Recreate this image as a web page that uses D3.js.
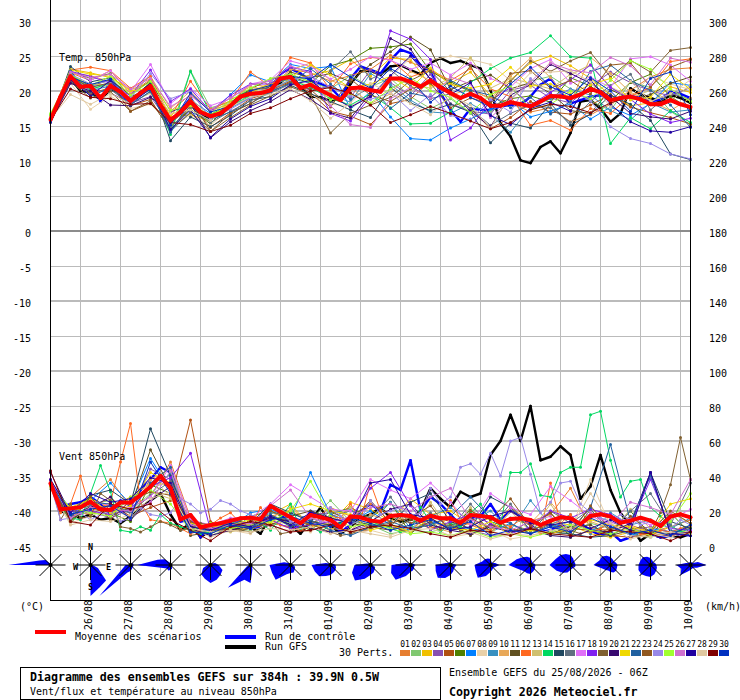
<!DOCTYPE html>
<html><head><meta charset="utf-8">
<script src="https://cdnjs.cloudflare.com/ajax/libs/d3/7.8.5/d3.min.js"></script>
<style>html,body{margin:0;padding:0;background:#fff}svg{display:block}text{font-family:"DejaVu Sans Mono",monospace;font-size:10px;fill:#000}.b{font-weight:bold;font-size:11.6px}</style>
</head><body><svg id="c" width="740" height="700"></svg>
<script>
const dateLabels=["26/08","27/08","28/08","29/08","30/08","31/08","01/09","02/09","03/09","04/09","05/09","06/09","07/09","08/09","09/09","10/09"];
const pertColors=["#e67e30","#80c870","#f0c000","#8850b0","#b05010","#508000","#0080ff","#e8d0a8","#3890c0","#e8a858","#605020","#ff6820","#d0c070","#00d860","#204860","#607080","#e070f8","#8020f0","#806030","#380870","#f0d800","#2060a0","#905820","#9888e8","#a0ff30","#d070d0","#2000a0","#e0c8a0","#800000","#0030c0"];

const tempMean=[15.9,19.2,22.1,20.6,20.7,19,20.7,19.9,18.6,19.7,20.7,18,15.8,17,18.5,17,16.4,16.8,17.9,19.2,19.6,19.7,20.1,21.8,22,20.4,20.9,20.1,19.4,18.7,20.4,20.5,20.1,19.9,21.8,21.8,21.3,20.6,21.5,20.5,19.7,19,19.6,19,17.9,17.9,18.4,18.1,17.8,18.5,19.3,19.2,19,19.5,20.3,19.8,18.7,19,19.2,18.8,18.1,18.1,18.7,18.1,17.7];
const tempControl=[15.8,19,22.5,20.5,21,18.5,21.5,19.5,18.4,19.5,21,18,15.5,17.2,19,16.8,16.5,16.9,18,19.5,19.8,20,20.4,22.5,23.2,22.5,21.5,21,20.5,19,21.8,23.5,23,22.5,24.4,25.9,25.4,23.7,22.8,19.7,17.3,15.6,17.5,17.3,17.3,17.8,18,18,19.2,20.9,21.8,19.9,18.2,18.7,19.2,19.4,18.7,19,19.3,19,18.5,18.8,19.9,19.6,19];
const tempGFS=[15.7,18.8,21.8,20,19.8,18.8,20.2,19.8,18.7,19.8,21,17.8,15.5,16.8,18.2,16.5,16,16.6,17.8,19,19.5,19.8,20,21.2,22.5,20.5,19.2,19.1,18.6,18.9,21,22.8,22.9,22.3,23.5,23.7,23,22.4,24,24.7,24,24.3,23.7,23.2,20.1,15.4,13.5,10.1,9.7,12,12.8,11.1,14,18.5,18.7,17.5,15.6,16.8,20.4,19.5,19,18.5,19.4,19,18.3];
const windMean=[35.8,21,21.5,22.1,25.3,21,20.6,24.8,24.8,29.1,33.9,40,33,15.2,17.7,10.7,12,13,14.5,15.8,16.2,15.2,22.9,19.6,16.4,13,17.7,16.4,14.9,10.7,16.8,16.4,14.5,13.9,17.1,17.7,17.1,14.5,17.3,15.8,15.8,13.3,17.7,17.1,16.4,13.3,15.4,15.8,14.9,12,14.5,16.4,15.8,12.6,17.1,18.1,16.8,13.3,14.5,16.2,14.5,11.4,16.8,18.1,16.4];
const windControl=[36,22,24,25,28,24,18,26,23,32,38,45,42,14,15,5,12,9,11,13,10,11,24,18,13,10,20,17,15,8,12,20,24,20,35,32,49,20,28,24,18,12,16,17,24,15,20,17,12,8,9,12,10,13,9,6,8,3,5,8,7,5,6,7,6];
const windGFS=[37,20,18,16,18,15,16,13,17,22,26,30,18,9,13,5,9,10,13,9,11,7,17,15,12,7,14,22,12,7,11,16,18,22,16,14,15,20,33,27,22,31,28,30,52,60,75,60,80,49,51,57,52,27,34,52,32,19,11,3,7,5,6,5,7];
/* wind roses: directional frequencies, clockwise N..NNW */
const roses=[
[1,0,0,0,0,0,0,0,0,0,0,0,42,12,7,2],
[0,0,0,0,2,8,22,24,31,0,0,0,0,0,0,0],
[0,0,3,3,3,3,3,4,6,8,44,8,5,0,0,0],
[2,1,1,1,1,1,2,4,5,6,5,8,33,14,8,3],
[2,1,2,5,8,13,14,16,18,15,13,8,3,2,1,2],
[2,1,1,1,1,1,2,5,18,16,32,4,1,1,1,2],
[2,1,1,2,3,5,6,8,8,10,21,20,21,7,3,2],
[2,1,1,3,5,6,7,8,10,12,16,17,19,5,2,2],
[2,1,1,2,2,5,6,8,10,15,22,20,16,4,2,2],
[2,1,2,3,5,4,5,6,7,12,21,21,19,5,2,2],
[3,2,2,3,6,5,5,7,10,14,18,16,15,5,3,3],
[6,3,3,5,9,5,4,5,7,12,18,16,16,9,8,7],
[7,4,3,4,5,5,6,7,9,9,9,12,22,15,11,9],
[10,7,5,5,5,5,4,4,5,8,11,15,21,16,14,12],
[8,6,5,6,7,7,8,8,7,6,7,9,17,12,12,10],
[7,5,4,5,6,7,8,10,12,12,13,13,12,11,11,9],
[3,3,3,8,16,7,4,4,5,7,14,10,14,5,3,3]];

/* perturbed members, 850 hPa temperature, °C, 01..30 */
const tempP01=[16.2,22.6,21.5,22.9,19.6,21.7,17.1,19.5,17.2,18.2,21,20.5,23.1,22.6,21.4,22.2,23.1,25.1,24.1,23,21,20.1,19,18.4,17,17.6,15.6,16.6,18.1,20.1,22,23.1,23.3];
const tempP02=[16.6,22.1,20.3,20.9,18.9,20.1,14.4,22.9,17.6,18.4,19.4,21.2,22.4,21.3,20.3,22.2,20.6,21.8,19.2,17.5,18.9,16.8,17.1,18.9,21.4,22.1,20.3,18.6,17.2,21.3,20.5,17.1,15.2];
const tempP03=[16.1,23.1,22.6,21.9,20.2,21.2,16.3,16.6,15.7,18.8,19.9,21.1,21.6,22.3,22.9,24.5,22.1,24.7,24.5,20.8,21.1,22.7,19.3,21.6,24,25,23.6,21.8,19.4,17.9,18.3,20.6,19.8];
const tempP04=[15.6,21.5,20.4,19.7,18.3,19.2,15.2,18.3,16.1,17.8,19.1,20,21.2,20.1,20.7,19.1,23,21.2,19.3,22.4,18.2,17.1,16.7,20.1,20.8,19,18.3,20.7,22.7,21.2,20,19.3,20.5];
const tempP05=[15.9,21.2,19.6,20.5,17.9,18.8,14.3,17.9,14.8,16.9,18.9,19.8,21.3,19.8,17.1,16.4,15.2,18.2,18.8,21.5,19.5,17.5,14.6,16.2,18.5,17,16.7,18,19.5,17.7,16.9,16.2,15.3];
const tempP06=[16.4,22.8,21.8,22.5,19.2,20.3,14.9,17.4,15.3,18.4,20.3,21.7,22.1,21.1,23.6,24.4,26.1,26.3,26.7,22.8,21.3,19.9,17.8,18.9,19.3,18.4,21.9,20.7,18.6,21.2,22.4,19.2,17.4];
const tempP07=[15.8,21.9,20.6,21.1,18.7,20.4,15.6,18.7,16.8,19.5,22.3,21.3,23.8,23.2,23.5,17.4,19.9,16.3,13.2,13,14.7,16,17.4,18.6,16.3,17.1,18.2,16,17.7,16.5,18.2,21.2,20.8];
const tempP08=[16,21.1,17.4,19.3,17.5,18.1,15.2,16.5,15.1,17.5,19.9,20.3,20.9,19.5,18.1,17.9,19.1,22,24.7,24.4,25,24.5,23.8,21.5,20.5,24.2,22.2,23.8,20.6,19.2,22.1,21,20.2];
const tempP09=[15.9,21.7,20.1,20.7,18.6,20.8,14.2,17,15.8,17.6,19,20.8,21.8,21.1,19.5,18.4,22.5,20.9,18.7,17,16.8,18.2,16.6,14.1,17.7,18.9,20.3,19.4,17.2,15.9,18.3,17,17.3];
const tempP10=[16.3,22.5,22.2,21.3,19.8,22.1,17.5,20,16.9,19.1,20.6,20.1,23,24,21.5,20.5,18.2,19.6,22.8,21.5,19.4,20.3,18.8,22.1,24.7,21.9,18.4,24.8,22.5,19.8,18.6,17.2,19];
const tempP11=[16.2,22.2,20.7,21.6,19.4,21.5,16.1,18.1,16.5,18,20.2,20.5,22.7,21.9,22.5,21.3,23.8,25.6,27.7,25.9,20.2,21.4,22.3,20.3,21.2,19.7,17.2,16.8,20.2,18.8,19.5,21.1,22];
const tempP12=[16,23,23.4,22.9,20.4,22.1,16.2,21.4,17.4,18.6,22.7,20.6,24.8,24,20.2,23.9,24.8,24.5,22,23,21.5,23.2,20.3,19.2,15.1,15.8,14.4,17.5,16.8,19.3,20.5,24.2,24.6];
const tempP13=[16.1,21.8,21,20.8,18.3,19.7,15,18.9,16.4,18.3,19.6,20.4,21.5,20.7,19.8,17.6,19.3,21.7,21,20.4,21.9,24.8,20.4,21.8,21.1,20.3,22.4,23.7,20.5,19,20.1,18.5,20.9];
const tempP14=[16.5,22.4,20.2,21.2,19,20.5,13.8,22.8,16.7,17.9,19.3,20.2,21.6,20.5,18.9,18,19.6,17.6,15.3,15.4,17,21.2,23.2,24.7,25.5,27.9,24.9,24.7,12.5,16.2,14.6,17.2,15.5];
const tempP15=[15.6,23.5,21.3,21.9,18.8,21.2,12.9,16.3,14.9,16.5,18.7,19.2,20.8,19.6,18.5,17.3,16.2,20.5,18.3,17.2,18.1,17,12.6,15.4,14.7,18.2,15.1,16.7,19.4,18.1,15.8,11,10.2];
const tempP16=[15.9,21.4,19.8,20.2,18.1,19.9,14.7,17.8,15.5,17.1,18.6,19.7,21,20.3,22.9,25.6,21.7,23,20.7,18.9,19.6,17.5,15.1,16.8,18,17.6,15.5,18.5,20.8,22.4,17.3,19.7,18.8];
const tempP17=[16.3,22.9,21.5,22.9,19.9,23.8,18.2,20.4,17.9,18.9,21,21.6,24.3,23.5,21.7,23.1,24.9,24.4,23.1,24,22.3,24,21.8,20.6,23.2,24.5,21.1,22,20.5,24.6,24.9,23.7,21.4];
const tempP18=[16.1,22.8,22.1,21.1,19.3,23,18.5,20.3,17.1,19.4,21,21,23.4,22.8,16.8,15.7,19.2,28.6,27.4,24.5,13,14.7,18.6,20.5,18,19.8,21.6,23.7,20.5,18.8,16.7,15.5,16.1];
const tempP19=[15.8,21.3,19,19.9,17.1,18.6,14.4,16.9,14.2,16.2,18,19.3,20.6,19.5,14,16.8,18,19.1,21.5,22.9,19.9,23.6,18.3,21.4,24.3,22.8,24.3,25.5,22,24.4,22.7,25.8,26.2];
const tempP20=[15.5,21.1,20,18,17.9,19.1,17,18.2,13.3,15.6,17.2,18.5,20.2,18.8,16.9,16.1,19.7,27.5,26,21.6,20,17.1,14.9,19.4,20.9,23.8,22.5,21.1,19.2,16.8,16.3,16,17.1];
const tempP21=[16.4,23,22.4,22.1,20,20.4,16.6,17.9,16.4,18.2,19.8,20.9,22,23.7,22.3,20.4,21,22.1,20.3,23.3,20.9,20.4,21,23.4,20.7,21,19.6,20.9,21.8,18.7,19.1,22.4,20.2];
const tempP22=[15.7,22.9,19.2,20.5,18,20,14.1,18.5,15.9,17,18.2,19.9,21.1,23.2,21,18.8,20.6,17.5,19.7,19.1,21.5,20.1,19.4,17.6,19.1,16.7,18.5,22.8,23.7,21.5,20.1,18,14.8];
const tempP23=[16.1,22,20.5,21.2,17.1,18.3,15.4,19,14.2,16.8,18.2,20.1,21.4,20.2,17.7,21.7,19.4,18.5,20.3,21.1,17.6,19,18.2,22.5,22.9,20.4,21.5,19.6,23.7,24,20.6,23.4,24.5];
const tempP24=[16,22.4,21,21.4,19,22.5,18.9,19.9,16.1,17.4,19,20.2,21.6,22.1,20.5,19.3,18.8,19.8,17.2,19.5,16.5,15.9,18.8,17,21.8,19.3,20.1,18.6,14.9,13.2,12.5,11,10.3];
const tempP25=[16.8,22.3,20.8,22.1,19.4,21.4,17.2,18,16.6,18.7,20.4,21.8,22.4,21.3,18.7,19.6,18.3,20.3,21.9,20,19.1,16.9,19.5,20.7,17.4,18.1,20,18.9,21.5,24.3,23.1,20.3,18.5];
const tempP26=[16.2,22.7,21.9,22.4,20.3,21.8,17.8,19.3,17.3,19,20.9,21.4,23.6,22.5,17.9,15.2,14.8,18.9,20.5,19,22,21,16.2,18.8,21.3,24,23,22.6,24.8,23.6,20.9,24.7,24.1];
const tempP27=[15.7,21.6,19.3,21.5,18.2,20.3,14.5,17.3,13.4,16,17.8,18.9,20.9,21.5,19.3,17.7,19.2,22.2,25,21.7,19.5,21.2,16.5,15.2,17.5,18.4,17.1,21.6,18.1,15.6,14.3,14.1,14.9];
const tempP28=[16,19.5,18.1,19.6,18.2,20.8,16.8,17.3,15.8,17.7,19.2,19.5,20.3,18.6,16.1,18.3,21.1,19.7,18.2,16.6,19.3,18,14.7,19.6,22.6,22.7,22.9,21.3,17.7,21.4,18.5,19.6,21.6];
const tempP29=[15.8,20.3,19.1,18.9,18.1,18.2,15.5,15.2,14.2,15.1,16.8,17.6,18.9,20,20.5,19.7,18,15.5,16.6,17.8,16.8,15.7,14.6,15.5,17.3,18.1,17.8,16.9,18.3,19.2,18.2,18.8,17.5];
const tempP30=[15.6,22,20.9,21.7,18.5,20.3,15.1,19.7,17,17.8,20,20.8,22.1,21.7,23.8,22,20.4,23.2,21.7,18.4,20.7,19.1,17.7,21,23.4,20.6,19.4,21.9,20,17.1,21.8,22.7,16.6];

/* perturbed members, 850 hPa wind, km/h, 01..30 (some members kept at 6 h) */
const windP01=[38,19,28,38,22,28,48,16,8,14,12,17,20,14,22,17,24,18,16,14,10,13,9,22,14,18,33,10,9,12,8,11,15];
const windP02=[36,13,24,26,20,30,42,10,6,10,9,16,13,15,26,14,12,7,9,8,11,7,10,12,9,6,8,13,10,7,5,8,12];
const windP03=[33,22,27,22,28,36,35,9,8,12,14,18,24,11,13,25,21,14,27,18,20,12,16,8,9,14,12,7,5,8,6,11,7];
const windP04=[35,16,20,16,21,44,38,14,10,15,11,12,8,18,19,9,12,11,8,13,16,9,6,7,15,11,9,18,14,9,11,8,10];
const windP05=[34,20,18,24,17,22,26,72,14,9,10,13,11,14,12,8,9,18,13,17,14,8,12,10,7,13,10,9,6,5,7,6,8];
const windP06=[37,15,22,19,14,35,30,12,7,12,17,20,14,9,18,22,16,25,7,16,9,21,8,16,12,19,5,21,8,20,6,19,7];
const windP07=[36,18,26,36,24,50,32,8,9,11,19,21,16,42,18,14,20,12,9,14,11,10,8,13,7,11,14,9,12,6,10,8,6];
const windP08=[33,13,17,22,16,40,28,11,5,9,7,14,10,8,15,7,9,6,11,12,5,7,9,4,6,8,9,38,11,4,7,5,9];
const windP09=[37,21,25,20,26,33,41,9,11,13,12,19,18,16,19,21,13,25,10,17,22,14,20,9,26,12,18,7,19,12,15,10,16];
const windP10=[34,17,21,28,18,38,44,15,10,14,12,16,22,12,10,9,18,14,17,11,8,16,7,20,13,25,12,14,10,8,9,6,8];
const windP11=[35,14,23,17,22,55,33,6,8,10,8,12,17,20,16,13,11,9,15,10,13,6,12,8,10,7,11,12,6,9,8,7,11];
const windP12=[34,19,24,40,20,22,25,48,70,25,15,14,13,10,7,9,12,16,19,13,11,22,15,12,10,9,11,14,17,16,24,15,36,20,12,10,8,14,11,9,26,15,12,10,9,13,11,15,12,7,36,13,18,12,8,10,13,9,11,7,6,9,8,10,11];
const windP13=[36,18,19,18,25,31,27,13,9,8,11,15,12,17,8,22,10,18,7,25,9,22,6,20,8,24,7,19,8,21,10,19,13];
const windP14=[35,22,16,15,30,46,31,9,8,11,9,18,13,11,9,7,8,10,14,12,18,13,9,16,24,10,11,8,12,13,15,17,14,12,10,8,9,22,14,8,13,11,19,24,14,12,42,42,47,29,28,42,45,45,75,77,49,28,37,38,22,17,12,8,10];
const windP15=[36,16,29,32,24,67,40,10,10,15,13,24,19,14,12,15,12,11,25,30,14,10,28,22,9,8,7,5,6,12,42,14,10];
const windP16=[35,20,23,21,19,29,37,12,8,13,10,17,15,13,17,20,16,28,12,19,10,24,11,24,8,20,13,21,8,20,30,12,36];
const windP17=[38,17,26,23,22,28,46,15,12,16,16,24,35,28,21,20,38,32,27,36,25,12,30,22,18,34,26,17,13,16,12,15,21];
const windP18=[36,20,20,18,21,34,39,53,9,14,13,15,10,12,14,16,33,42,23,9,14,18,13,7,11,20,16,21,18,12,38,10,9];
const windP19=[37,15,24,16,17,30,26,11,10,8,11,14,12,9,10,13,12,8,11,9,16,12,14,7,8,11,13,10,8,6,7,9,10,12,13,9,8,11,14,10,12,9,16,13,11,14,8,10,9,11,13,8,9,7,9,8,10,12,9,11,8,19,35,62,38];
const windP20=[42,18,22,28,15,26,34,10,6,9,12,16,14,10,8,9,14,21,24,12,9,7,11,8,10,6,5,9,8,13,42,7,8];
const windP21=[35,21,27,19,23,42,36,13,11,12,15,13,21,24,20,18,9,12,8,16,10,9,14,6,9,7,10,15,12,11,8,24,27];
const windP22=[33,17,25,24,19,36,45,8,7,15,10,18,11,15,9,6,11,14,10,12,17,28,16,13,7,12,9,22,58,14,40,9,6];
const windP23=[36,14,28,15,26,31,29,14,9,10,14,20,16,12,20,14,26,13,16,23,8,20,15,27,11,19,7,23,9,17,8,20,13];
const windP24=[35,15,16,19,15,18,20,14,16,22,18,17,19,27,24,19,21,26,24,20,18,15,23,19,14,12,16,14,22,17,12,15,26,18,20,22,17,19,33,24,28,45,47,41,53,40,60,62,41,19,25,36,37,24,19,16,14,18,15,12,14,13,10,15,12];
const windP25=[34,22,19,17,28,32,24,9,13,10,12,14,20,37,17,11,13,10,7,8,6,9,5,7,5,8,12,9,7,10,6,14,30];
const windP26=[37,16,22,21,20,25,43,12,10,12,13,23,32,16,13,17,22,24,20,28,33,15,11,9,14,17,8,19,12,25,22,18,38];
const windP27=[38,19,30,25,27,39,36,11,9,13,11,17,12,19,16,13,36,38,18,16,9,11,17,20,13,12,14,10,15,9,42,7,6];
const windP28=[33,12,15,14,18,27,31,10,8,9,8,10,9,11,7,9,7,5,9,10,6,8,4,7,6,9,10,30,13,6,5,8,7];
const windP29=[43,14,12,24,21,24,15,9,3,11,14,12,8,9,12,8,11,12,10,7,5,9,8,6,10,7,6,5,9,8,7,3,8];
const windP30=[36,18,21,23,16,48,30,8,7,12,10,15,17,13,11,16,13,9,12,15,10,14,6,9,7,11,8,16,11,7,9,6,12];

const tempPerts=[tempP01,tempP02,tempP03,tempP04,tempP05,tempP06,tempP07,tempP08,tempP09,tempP10,tempP11,tempP12,tempP13,tempP14,tempP15,tempP16,tempP17,tempP18,tempP19,tempP20,tempP21,tempP22,tempP23,tempP24,tempP25,tempP26,tempP27,tempP28,tempP29,tempP30];
const windPerts=[windP01,windP02,windP03,windP04,windP05,windP06,windP07,windP08,windP09,windP10,windP11,windP12,windP13,windP14,windP15,windP16,windP17,windP18,windP19,windP20,windP21,windP22,windP23,windP24,windP25,windP26,windP27,windP28,windP29,windP30];
const dayTicks=d3.range(18,384,24);
const roseHours=d3.range(0,385,24);

const svg=d3.select("#c");
const x=d3.scaleLinear().domain([0,384]).range([50.5,690.5]);
const yT=d3.scaleLinear().domain([-45,30]).range([546,21]);
const yW=d3.scaleLinear().domain([0,300]).range([546,21]);
const rR=d3.scaleLinear().domain([0,45]).range([0,45]);

const grid=svg.append("g").attr("shape-rendering","crispEdges");
grid.selectAll(".v").data(dayTicks).join("line").attr("x1",x).attr("x2",x).attr("y1",0).attr("y2",600).attr("stroke","#bbb");
grid.selectAll(".h").data(d3.range(-45,31,5)).join("line").attr("x1",50).attr("x2",690).attr("y1",d=>Math.round(yT(d))).attr("y2",d=>Math.round(yT(d))).attr("stroke",d=>d===0?"#8c8c8c":"#bbb").attr("stroke-width",d=>d%10===0?2:1);

function series(vals,col,yS,w,r){
  const n=vals.length, h=i=>i*384/(n-1);
  const g=svg.append("g");
  g.append("path").attr("d",d3.line().x((d,i)=>x(h(i))).y(d=>yS(d))(vals)).attr("fill","none").attr("stroke",col).attr("stroke-width",w).attr("stroke-linejoin","round");
  g.selectAll("circle").data(vals).join("circle").attr("cx",(d,i)=>x(h(i))).attr("cy",d=>yS(d)).attr("r",r).attr("fill",col);
}
series(tempGFS,"#000",yT,2.4,1.3);series(windGFS,"#000",yW,2.4,1.3);
series(tempControl,"#0000ff",yT,2.4,1.3);series(windControl,"#0000ff",yW,2.4,1.3);
tempPerts.forEach((s,i)=>series(s,pertColors[i],yT,1,1.5));
windPerts.forEach((s,i)=>series(s,pertColors[i],yW,1,1.5));
series(tempMean,"#ff0000",yT,4,2);series(windMean,"#ff0000",yW,4,2);

/* wind roses */
const roseG=svg.append("g");
const cy=565;
roses.forEach((r,k)=>{
  const cx=x(roseHours[k]);
  const g=roseG.append("g").attr("transform",`translate(${cx},${cy})`);
  const radial=d3.lineRadial().angle((d,i)=>i*Math.PI/8).radius(d=>rR(d)).curve(d3.curveLinearClosed);
  g.append("path").attr("d",radial(r)).attr("fill","#0000ff");
  [[0,-15,0,15],[-15,0,15,0],[-11,-11,11,11],[-11,11,11,-11]].forEach(c=>{
    g.append("line").attr("x1",c[0]).attr("y1",c[1]).attr("x2",c[2]).attr("y2",c[3]).attr("stroke","#000");
  });
  g.append("circle").attr("r",2).attr("fill","#000");
});
const c2=x(roseHours[1]);
[["N",0,-15],["S",0,25],["W",-15,5],["E",18,5]].forEach(l=>{
  svg.append("text").attr("x",c2+l[1]).attr("y",cy+l[2]).attr("text-anchor","middle").style("font-weight","bold").style("font-size","8.5px").text(l[0]);
});

/* frame */
const fr=svg.append("g").attr("shape-rendering","crispEdges").attr("stroke","#000");
fr.append("line").attr("x1",50.5).attr("x2",50.5).attr("y1",0).attr("y2",600);
fr.append("line").attr("x1",690.5).attr("x2",690.5).attr("y1",0).attr("y2",600);
fr.append("line").attr("x1",50).attr("x2",691).attr("y1",600.5).attr("y2",600.5);

/* axes */
const axL=d3.axisLeft(yT).tickValues(d3.range(-45,31,5)).tickSize(0).tickPadding(19).tickFormat(d=>String(d));
const axR=d3.axisRight(yW).tickValues(d3.range(0,301,20)).tickSize(0).tickPadding(19).tickFormat(d=>String(d));
const gL=svg.append("g").attr("transform","translate(50,0)").call(axL);
const gR=svg.append("g").attr("transform","translate(690,0)").call(axR);
[gL,gR].forEach(g=>{g.select(".domain").remove();g.selectAll("text").attr("dy","0.5em").style("font-family",'"DejaVu Sans Mono",monospace').style("font-size","10px");});
const axB=d3.axisBottom(x).tickValues(dayTicks).tickSize(0).tickFormat((d,i)=>dateLabels[i]);
const gB=svg.append("g").attr("transform","translate(0,600)").call(axB);
gB.select(".domain").remove();
gB.selectAll("text").attr("transform","translate(10.5,30) rotate(-90)").attr("x",0).attr("y",0).attr("dy",0).attr("text-anchor","start").style("font-family",'"DejaVu Sans Mono",monospace').style("font-size","10px");

function t(x0,y0,s,cls){const e=svg.append("text").attr("x",x0).attr("y",y0).text(s);if(cls)e.attr("class",cls);return e;}
t(59,61,"Temp. 850hPa");t(59,460,"Vent 850hPa");t(20,610,"(°C)");t(705,610,"(km/h)");

/* legend */
const lg=svg.append("g").attr("shape-rendering","crispEdges");
lg.append("rect").attr("x",35).attr("y",630).attr("width",31).attr("height",4).attr("fill","#f00");
lg.append("rect").attr("x",225).attr("y",635).attr("width",31).attr("height",4).attr("fill","#00f");
lg.append("rect").attr("x",225).attr("y",645).attr("width",31).attr("height",4).attr("fill","#000");
t(75,640,"Moyenne des scénarios");t(265,640,"Run de contrôle");t(265,650,"Run GFS");t(339,656,"30 Perts.");
pertColors.forEach((c,i)=>{
  lg.append("rect").attr("x",400+i*11).attr("y",650).attr("width",10).attr("height",6).attr("fill",c);
  svg.append("text").attr("x",405+i*11).attr("y",647).attr("text-anchor","middle").style("font-size","8px").text(d3.format("02")(i+1));
});
svg.append("rect").attr("x",20.5).attr("y",667.5).attr("width",420).attr("height",32).attr("fill","#fff").attr("stroke","#000").attr("shape-rendering","crispEdges");
t(30,681,"Diagramme des ensembles GEFS sur 384h : 39.9N 0.5W","b");
t(30,695,"Vent/flux et température au niveau 850hPa");
t(449,676,"Ensemble GEFS du 25/08/2026 - 06Z");
t(449,696,"Copyright 2026 Meteociel.fr","b");
</script></body></html>
